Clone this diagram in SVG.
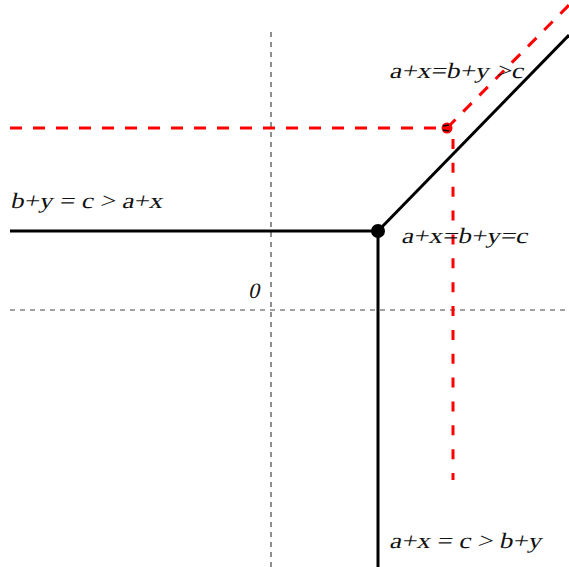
<svg xmlns="http://www.w3.org/2000/svg" width="569" height="567" viewBox="0 0 569 567">
<style>
.axis{stroke:#444;stroke-width:1.2;stroke-dasharray:5 5;fill:none}
.blk{stroke:#000;stroke-width:3;fill:none}
.red{stroke:#f00;stroke-width:3;stroke-dasharray:12 11;fill:none}
text{font-family:"Liberation Serif","Times New Roman",serif;font-style:normal;font-size:22px;fill:#111}
</style>
<rect width="569" height="567" fill="#fff"/>
<g id="axes">
<line class="axis" x1="271" y1="32" x2="271" y2="567"/>
<line class="axis" x1="10" y1="310" x2="569" y2="310"/>
</g>
<g id="connectors">
<line class="blk" x1="10" y1="231" x2="378" y2="231"/>
<line class="blk" x1="378" y1="231" x2="378" y2="567"/>
<line class="blk" x1="378" y1="231" x2="569" y2="35"/>
<line class="red" x1="10" y1="128" x2="447" y2="128"/>
<line class="red" x1="453" y1="139" x2="453" y2="480" style="stroke-dasharray:10 13.86"/>
<line class="red" x1="447" y1="128" x2="569" y2="5"/>
</g>
<g id="node-black">
<circle cx="378" cy="231" r="7" fill="#000"/>
</g>
<g id="node-red">
<circle cx="447" cy="128" r="5.5" fill="#f00"/>
<path d="M443 126 L449 125 M443 130 L449 131" stroke="#000" stroke-width="1.5"/>
</g>
<g id="labels">
<text transform="translate(389 78) skewX(-13)" textLength="134" lengthAdjust="spacingAndGlyphs">a+x=b+y &gt;c</text>
<text transform="translate(10 208) skewX(-13)" textLength="152" lengthAdjust="spacingAndGlyphs">b+y = c &gt; a+x</text>
<text transform="translate(401 243) skewX(-13)" textLength="126" lengthAdjust="spacingAndGlyphs">a+x=b+y=c</text>
<text transform="translate(248 298) skewX(-13)">0</text>
<text transform="translate(389 548) skewX(-13)" textLength="152" lengthAdjust="spacingAndGlyphs">a+x = c &gt; b+y</text>
</g>
</svg>
